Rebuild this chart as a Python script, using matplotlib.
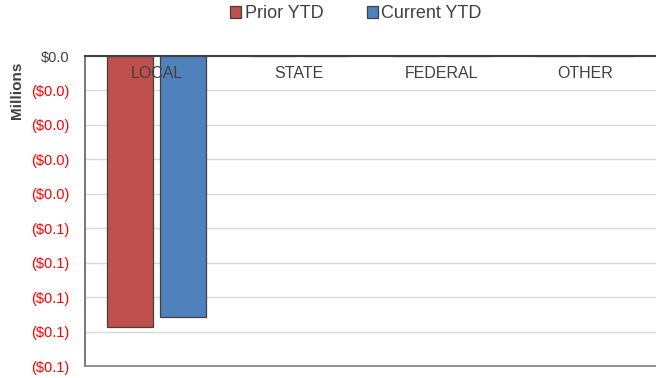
import matplotlib.pyplot as plt
import numpy as np

plt.rcParams['font.family'] = ['Liberation Sans', 'DejaVu Sans']

categories = ['LOCAL', 'STATE', 'FEDERAL', 'OTHER']
prior_ytd = [-0.0788, 0.0, 0.0, 0.0]
current_ytd = [-0.0757, 0.0, 0.0, 0.0]
y_ticks = [0.0, -0.01, -0.02, -0.03, -0.04, -0.05, -0.06, -0.07, -0.08, -0.09]


def money(v):
    s = '${:.1f}'.format(abs(v))
    return '(' + s + ')' if v < 0 else s


fig = plt.figure(figsize=(6.56, 3.78), dpi=100)
ax = fig.add_axes([85 / 656, 12 / 378, 571 / 656, 310 / 378])

x = np.arange(len(categories))
w = 0.32
ax.bar(x - w / 2 - 0.025, prior_ytd, w, color='#c0504d', edgecolor='#404040',
       linewidth=0.9, label='Prior YTD', zorder=3)
ax.bar(x + w / 2 + 0.025, current_ytd, w, color='#4f81bd', edgecolor='#404040',
       linewidth=0.9, label='Current YTD', zorder=3)

ax.set_xlim(-0.5, len(categories) - 0.5)
ax.set_ylim(y_ticks[-1], 0)
ax.set_yticks(y_ticks)
ax.set_yticklabels([money(v) for v in y_ticks], fontsize=10.5)
for lbl, v in zip(ax.get_yticklabels(), y_ticks):
    lbl.set_color('#ff0000' if v < 0 else '#404040')
ax.tick_params(axis='y', length=0, pad=11)
ax.yaxis.grid(True, color='#d9d9d9', linewidth=1, zorder=0)

# category names sit just under the zero line, drawn over the bars
ax.set_xticks([])
for xi, name in zip(x, categories):
    ax.text(xi, 1 - 18 / 310, name, transform=ax.get_xaxis_transform(),
            ha='center', va='center', fontsize=11.5, color='#404040', zorder=5)

ax.spines['right'].set_visible(False)
ax.spines['top'].set_color('#404040')
ax.spines['top'].set_linewidth(1.5)
ax.spines['top'].set_zorder(4)
ax.spines['left'].set_color('#606060')
ax.spines['left'].set_linewidth(1.2)
ax.spines['bottom'].set_color('#808080')
ax.spines['bottom'].set_linewidth(1.2)

fig.text(17 / 656, 1 - 90 / 378, 'Millions', rotation=90, ha='center', va='center',
         fontsize=11, fontweight='bold', color='#404040')

leg = fig.legend(loc='center', bbox_to_anchor=(356 / 656, 1 - 14 / 378), ncol=2,
                 frameon=False, fontsize=13, handlelength=0.6, handleheight=0.6,
                 handletextpad=0.2, columnspacing=2.4)
for t in leg.get_texts():
    t.set_color('#404040')

fig.savefig('out.png', dpi=100)
